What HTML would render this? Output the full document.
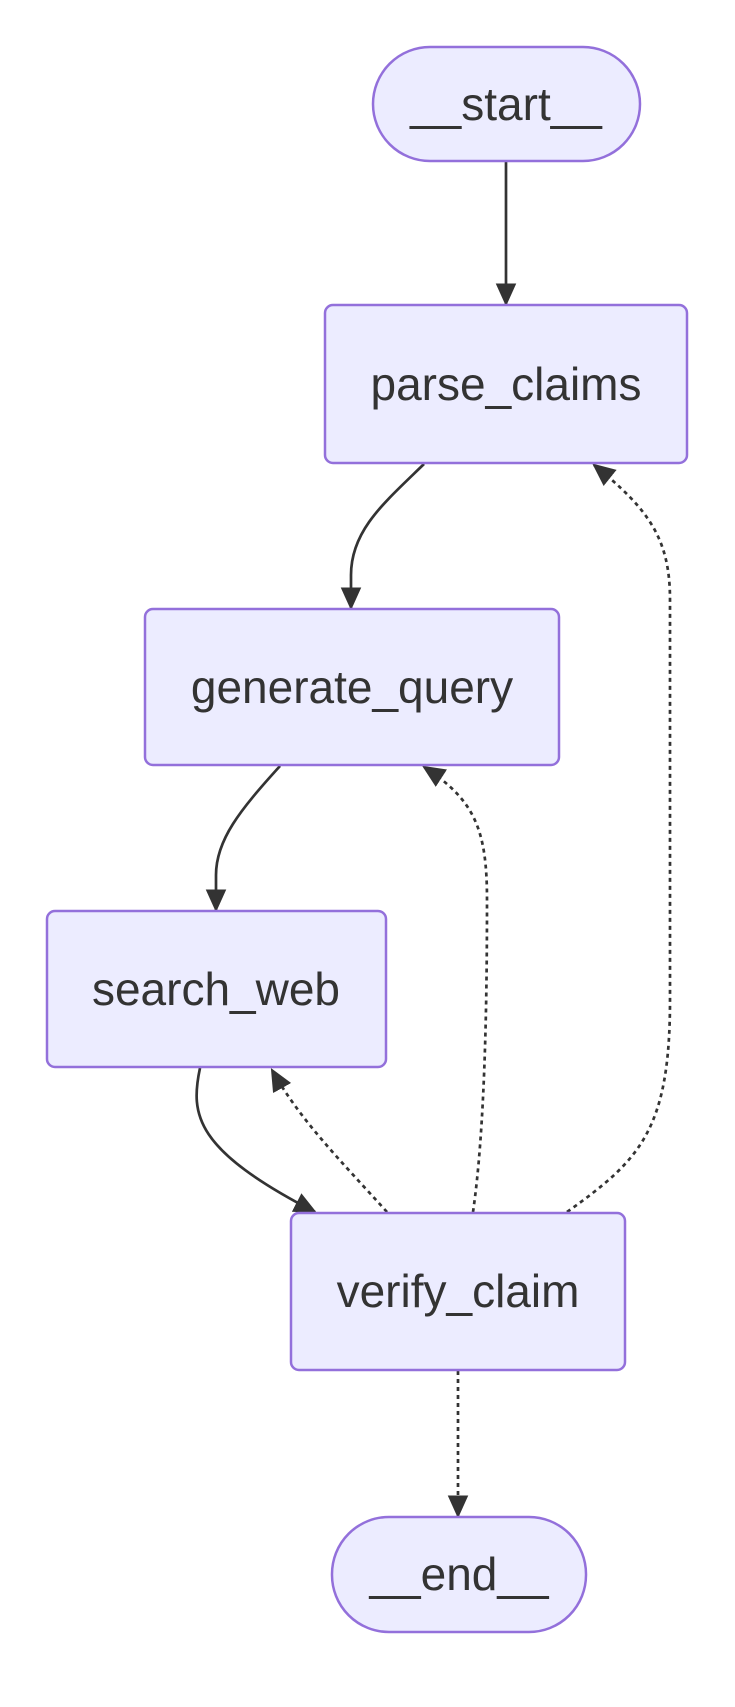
<!DOCTYPE html>
<html><head><meta charset="utf-8"><style>
html,body{margin:0;padding:0;background:#fff;}
svg{display:block;}
text{font-family:"Liberation Sans",Arial,sans-serif;font-size:46px;fill:#333;text-anchor:middle;dominant-baseline:central;}
.n{fill:#ECECFF;stroke:#9370DB;stroke-width:2.5;}
.e{fill:none;stroke:#333;stroke-width:2.7;}
.d{stroke-dasharray:4 4;}
</style></head><body>
<svg width="735" height="1707" viewBox="0 0 735 1707" xmlns="http://www.w3.org/2000/svg">
<defs>
<marker id="a" viewBox="0 0 20 20" refX="18" refY="10" markerWidth="23" markerHeight="23" markerUnits="userSpaceOnUse" orient="auto">
<path d="M0,1 L20,10 L0,19 z" fill="#333"/></marker>
</defs>
<path class="e" d="M506,162 L506,304" marker-end="url(#a)"/>
<path class="e" d="M424,464 C385,502 351,530 351,575 L351,608" marker-end="url(#a)"/>
<path class="e" d="M280,766 C240,810 216,840 216,875 L216,910" marker-end="url(#a)"/>
<path class="e" d="M200,1068 C190,1115 195,1150 315,1212" marker-end="url(#a)"/>
<path class="e d" d="M387,1212 C340,1160 300,1120 272,1070" marker-end="url(#a)"/>
<path class="e d" d="M473,1212 C485,1130 487,1000 487,900 C487,830 475,800 424,767" marker-end="url(#a)"/>
<path class="e d" d="M567,1212 C640,1160 670,1130 670,1000 L670,600 C670,540 650,510 594,465" marker-end="url(#a)"/>
<path class="e d" d="M458,1371 L458,1516" marker-end="url(#a)"/>
<rect class="n" x="373" y="47" width="267" height="114" rx="57"/>
<text x="506" y="104">__start__</text>
<rect class="n" x="325" y="305" width="362" height="158" rx="8"/>
<text x="506" y="384">parse_claims</text>
<rect class="n" x="145" y="609" width="414" height="156" rx="8"/>
<text x="352" y="687">generate_query</text>
<rect class="n" x="47" y="911" width="339" height="156" rx="8"/>
<text x="216" y="989">search_web</text>
<rect class="n" x="291" y="1213" width="334" height="157" rx="8"/>
<text x="458" y="1291">verify_claim</text>
<rect class="n" x="332" y="1517" width="254" height="115" rx="57"/>
<text x="459" y="1574">__end__</text>
</svg>
</body></html>
